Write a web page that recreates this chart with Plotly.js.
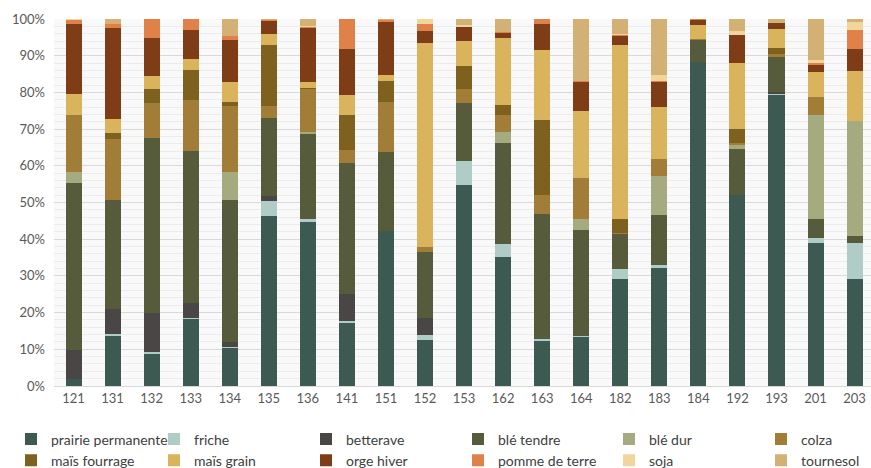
<!DOCTYPE html>
<html>
<head>
<meta charset="utf-8">
<script src="https://cdn.plot.ly/plotly-3.0.1.min.js"></script>
<style>html,body{margin:0;padding:0;background:#fff;}#chart{width:871px;height:468px;}</style>
</head>
<body>
<div id="chart"></div>
<script>
const categories = ['121','131','132','133','134','135','136','141','151','152','153','162','163','164','182','183','184','192','193','201','203'];

const prairiePermanente = [1.8,13.6,8.8,18.3,10.4,46.4,44.6,17.2,42.1,12.5,54.7,35.3,12.3,13.4,29.2,32.1,88.4,52.1,79.2,38.9,29.2];
const friche            = [0,0.5,0.4,0.3,0.2,3.9,1.0,0.4,0,1.4,6.7,3.4,0.6,0.2,2.7,0.8,0,0,0.3,1.4,9.7];
const betterave         = [8.0,7.0,10.7,3.9,1.5,1.4,0,7.4,0,4.5,0,0,0,0,0,0,0,0,0.5,0,0];
const bleTendre         = [45.6,29.6,47.8,41.5,38.7,21.2,23.2,35.7,21.6,18.2,15.6,27.6,34.0,29.0,9.5,13.6,6.0,12.6,9.6,5.3,1.9];
const bleDur            = [2.8,0,0,0,7.5,0,0.3,0,0,0,0,2.9,0,3.0,0,10.8,0,1.1,0,28.2,31.3];
const colza             = [15.6,16.5,9.4,13.8,18.1,3.5,11.7,3.6,13.6,1.4,3.9,4.8,5.1,11.2,0.3,4.6,0.2,0.4,1.0,5.0,0];
const maisFourrage      = [0,1.8,3.7,8.2,0.9,16.6,0.3,9.5,5.7,0,6.2,2.7,20.4,0,3.9,0,0,3.7,1.6,0,0];
const maisGrain         = [5.9,3.8,3.8,3.2,5.5,3.0,1.6,5.4,1.7,55.5,7.0,18.2,19.1,18.2,47.2,14.0,3.9,18.1,5.1,6.8,13.7];
const orgeHiver         = [19.0,24.8,10.1,7.9,11.5,3.5,14.8,12.7,14.5,3.1,3.7,1.5,7.2,7.8,2.5,7.0,1.1,7.7,1.6,2.0,6.0];
const pommeDeTerre      = [0.9,1.1,5.3,2.9,1.0,0.3,0.3,8.1,0.4,2.1,0,0.2,1.3,0.3,0.3,0.2,0.4,0,0,0.4,5.3];
const soja              = [0.4,0,0,0,0.2,0,0.4,0,0,1.3,0.5,0,0,0,0.4,1.7,0,1.1,0,0.7,2.0];
const tournesol         = [0,1.3,0,0,4.5,0.2,1.8,0,0.4,0,1.7,3.5,0,16.9,4.0,15.2,0,3.2,1.1,11.3,0.9];

const seriesNames = ['prairie permanente','friche','betterave','blé tendre','blé dur','colza',
                     'maïs fourrage','maïs grain','orge hiver','pomme de terre','soja','tournesol'];
const seriesValues = [prairiePermanente,friche,betterave,bleTendre,bleDur,colza,
                      maisFourrage,maisGrain,orgeHiver,pommeDeTerre,soja,tournesol];
const seriesColors = ['#3c5a52','#afcdc6','#4b4646','#565b3c','#a5aa7f','#a17d38',
                      '#7e601f','#dab35d','#7f3d17','#e0814a','#f0d69c','#d3b073'];

// one small vertical legend per column of the reference legend
const legendIds = ['legend','legend2','legend3','legend4','legend5','legend6'];

const traces = seriesNames.map((name, i) => ({
  type: 'bar',
  name: name,
  x: categories,
  y: seriesValues[i],
  marker: {color: seriesColors[i], line: {width: 0}},
  legend: legendIds[i % 6],
  legendrank: i,
  hoverinfo: 'name+y'
}));

const fontFam = 'Lato, "Open Sans", sans-serif';
const legendTextStarts = [51, 194, 346, 498, 649, 801];

const layout = {
  width: 871, height: 468,
  margin: {l: 54, r: 0, t: 19, b: 82, autoexpand: false},
  paper_bgcolor: '#ffffff',
  plot_bgcolor: '#f9f9f9',
  barmode: 'stack',
  barnorm: 'percent',
  bargap: 0.59,
  font: {family: fontFam, size: 13, color: '#595959'},
  xaxis: {
    type: 'category',
    range: [-0.5, 20.42],
    showgrid: false,
    showline: true, linecolor: '#d9d9d9', linewidth: 1,
    ticks: '', tickangle: 0,
    tickfont: {family: fontFam, size: 13, color: '#595959'},
    fixedrange: true
  },
  yaxis: {
    range: [0, 100],
    dtick: 10,
    ticksuffix: '%',
    showgrid: true, gridcolor: '#d9d9d9', gridwidth: 1,
    minor: {dtick: 2, showgrid: true, gridcolor: '#ececec', gridwidth: 1},
    zeroline: false,
    showline: false,
    ticks: '',
    ticklabelstandoff: 8,
    tickfont: {family: fontFam, size: 13, color: '#595959'},
    fixedrange: true
  },
  showlegend: true
};

legendIds.forEach((id, k) => {
  layout[id] = {
    orientation: 'v',
    xref: 'container', yref: 'container',
    x: (legendTextStarts[k] - 40) / 871, xanchor: 'left',
    y: 1 - 450 / 468, yanchor: 'middle',
    itemwidth: 30,
    tracegroupgap: 0,
    font: {family: fontFam, size: 14, color: '#404040'},
    bgcolor: 'rgba(0,0,0,0)',
    traceorder: 'normal'
  };
});

Plotly.newPlot('chart', traces, layout, {displayModeBar: false, staticPlot: true});
</script>
</body>
</html>
